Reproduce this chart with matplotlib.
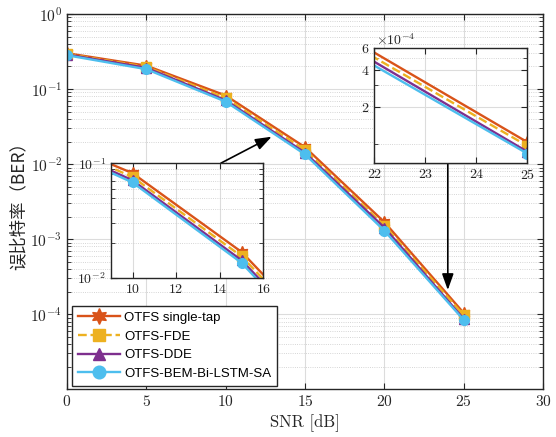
import numpy as np
import matplotlib
matplotlib.use("Agg")
import matplotlib.pyplot as plt
from matplotlib.ticker import FixedLocator, NullFormatter, LogLocator, FixedFormatter

plt.rcParams['font.family'] = ['cmr10']
plt.rcParams['mathtext.fontset'] = 'cm'
plt.rcParams['axes.formatter.use_mathtext'] = True

# SNR points and BER curves
snr = [0, 5, 10, 15, 20, 25]
ber_single_tap = [0.300, 0.205, 0.082, 0.0168, 1.69e-3, 1.04e-4]
ber_fde        = [0.293, 0.198, 0.076, 0.0154, 1.52e-3, 0.97e-4]
ber_dde        = [0.288, 0.192, 0.071, 0.0142, 1.43e-3, 0.87e-4]
ber_bem_lstm   = [0.282, 0.184, 0.068, 0.0135, 1.30e-3, 0.84e-4]

labels = ['OTFS single-tap', 'OTFS-FDE', 'OTFS-DDE', 'OTFS-BEM-Bi-LSTM-SA']
colors = ['#D95319', '#EDB120', '#7E2F8E', '#4DBEEE']
markers = [(6, 1, 0), 's', '^', 'o']
styles = ['-', '--', '-', '-']
series = [ber_single_tap, ber_fde, ber_dde, ber_bem_lstm]

xticks_main = [0, 5, 10, 15, 20, 25, 30]
xticks_in1 = [10, 12, 14, 16]
xticks_in2 = [22, 23, 24, 25]
yticks_in2 = [2e-4, 4e-4, 6e-4]
yticklabels_in2 = ['$2$', '$4$', '$6$']

W, H = 556, 437
fig = plt.figure(figsize=(W / 100, H / 100), dpi=100)

def frac(x0, y0, x1, y1):
    return [x0 / W, 1 - y1 / H, (x1 - x0) / W, (y1 - y0) / H]

tick_color = '#262626'

def style_axes(ax, fs):
    ax.set_facecolor('white')
    ax.grid(True, which='major', color='#dcdcdc', linewidth=0.8, linestyle='-')
    ax.grid(True, which='minor', axis='y', color='#c8c8c8', linewidth=0.6, linestyle=':')
    ax.set_axisbelow(True)
    ax.tick_params(which='both', direction='in', top=True, right=True,
                   labelsize=fs, labelcolor=tick_color, color='#262626')
    ax.tick_params(which='major', length=4.5, width=0.8)
    ax.tick_params(which='minor', length=2.8, width=0.6)
    for s in ax.spines.values():
        s.set_linewidth(1.0)
        s.set_color('#262626')

def draw_curves(ax, ms, lw):
    handles = []
    for y, lab, c, m, ls in zip(series, labels, colors, markers, styles):
        msz = ms * (1.25 if m == (6, 1, 0) else 1.0)
        h, = ax.plot(snr, y, color=c, linestyle=ls, marker=m, markersize=msz,
                     linewidth=lw, label=lab, markerfacecolor=c, markeredgecolor=c)
        handles.append(h)
    return handles

# Main axes
ax = fig.add_axes(frac(67, 14, 543, 389.3))
handles = draw_curves(ax, 7, 1.7)
ax.set_yscale('log')
ax.set_xlim(0, 30)
ax.set_ylim(1e-5, 1)
ax.set_xticks(xticks_main)
ax.set_yticks([1e0, 1e-1, 1e-2, 1e-3, 1e-4])
ax.yaxis.set_minor_locator(LogLocator(base=10, subs=np.arange(2, 10)))
ax.yaxis.set_minor_formatter(NullFormatter())
style_axes(ax, 11.2)
ax.set_xlabel('SNR [dB]', fontsize=12, color=tick_color, labelpad=4)
ax.set_ylabel('误比特率（BER）', fontsize=12.5, color=tick_color, labelpad=2,
              family=['Noto Sans CJK SC', 'DejaVu Sans'])

leg = ax.legend(handles=handles, loc='lower left', bbox_to_anchor=(0.0105, 0.0095),
                frameon=True, fancybox=False, handlelength=3.2, markerscale=1.3,
                labelspacing=0.48, borderpad=0.45, handletextpad=0.3,
                borderaxespad=0.0,
                prop={'family': 'Liberation Sans', 'size': 9.5})
leg.get_frame().set_edgecolor('#262626')
leg.get_frame().set_linewidth(1.0)
leg.get_frame().set_alpha(1)

# Arrows pointing from the zoomed views to their regions
arrow_kw = dict(arrowstyle='-|>,head_length=0.7,head_width=0.25', color='black',
                lw=1.2, mutation_scale=14, shrinkA=0, shrinkB=0)
ax.annotate('', xy=(12.9, 0.0232), xytext=(9.7, 0.0103), arrowprops=arrow_kw)
ax.annotate('', xy=(24.0, 2.1e-4), xytext=(24.0, 0.0103), arrowprops=arrow_kw)

# Inset 1: SNR 9-16
ax1 = fig.add_axes(frac(110.7, 163.3, 263.3, 277.7))
draw_curves(ax1, 7, 1.7)
ax1.set_yscale('log')
ax1.set_xlim(9, 16)
ax1.set_ylim(1e-2, 1e-1)
ax1.set_xticks(xticks_in1)
ax1.set_yticks([1e-2, 1e-1])
ax1.yaxis.set_minor_locator(LogLocator(base=10, subs=np.arange(2, 10)))
ax1.yaxis.set_minor_formatter(NullFormatter())
style_axes(ax1, 10)

# Inset 2: SNR 22-25
ax2 = fig.add_axes(frac(374.3, 48.3, 527.3, 163.3))
draw_curves(ax2, 7, 1.7)
ax2.set_yscale('log')
ax2.set_xlim(22, 25)
ax2.set_ylim(7e-5, 6e-4)
ax2.set_xticks(xticks_in2)
ax2.yaxis.set_major_locator(FixedLocator(yticks_in2))
ax2.yaxis.set_major_formatter(FixedFormatter(yticklabels_in2))
ax2.yaxis.set_minor_locator(FixedLocator([1e-4, 3e-4, 5e-4]))
ax2.yaxis.set_minor_formatter(NullFormatter())
style_axes(ax2, 10)
ax2.text(0.01, 1.005, r'$\times 10^{-4}$', transform=ax2.transAxes, fontsize=10,
         color=tick_color, ha='left', va='bottom')

fig.savefig('out.png', dpi=100)
